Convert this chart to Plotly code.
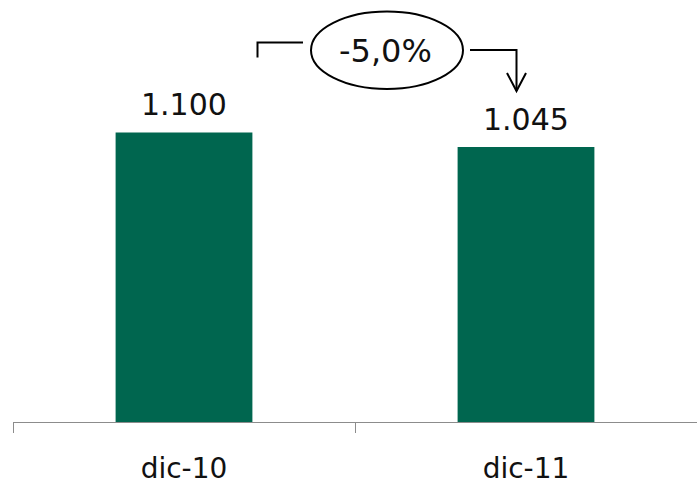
import plotly.graph_objects as go

categories = ["dic-10", "dic-11"]
values = [1100, 1045]

BAR_COLOR = "#00664f"
FONT = "DejaVu Sans"

# layout geometry (pixels)
W_FIG, H_FIG = 697, 485
M_L, M_R, M_T, M_B = 13, 0, 0, 63
PW = W_FIG - M_L - M_R
PH = H_FIG - M_T - M_B


def px(x):
    return (x - M_L) / PW


def py(y):
    return (PH - (y - M_T)) / PH


def fmt(v):
    return f"{v:,.0f}".replace(",", ".")


change = (values[1] - values[0]) / values[0] * 100
change_txt = f"{change:.1f}%".replace(".", ",")

fig = go.Figure()
fig.add_trace(go.Bar(
    x=categories,
    y=values,
    marker=dict(color=BAR_COLOR, line=dict(width=0)),
    width=0.4,
    hoverinfo="skip",
))

annotations = []
for c, v in zip(categories, values):
    annotations.append(dict(
        x=c, y=v, xref="x", yref="y", text=fmt(v), showarrow=False,
        yanchor="bottom", yshift=8,
        font=dict(family=FONT, size=30, color="#111111"),
    ))

annotations.append(dict(
    x=px(386), y=py(51), xref="paper", yref="paper", text=change_txt,
    showarrow=False, xanchor="center", yanchor="middle",
    font=dict(family=FONT, size=32, color="#111111"),
))

shapes = [
    # ellipse
    dict(type="circle", xref="paper", yref="paper",
         x0=px(311), x1=px(463), y0=py(89), y1=py(11.5),
         line=dict(color="black", width=2), fillcolor="white", layer="above"),
    # left bracket
    dict(type="path", xref="paper", yref="paper",
         path=f"M {px(257.5)},{py(57.5)} L {px(257.5)},{py(42.5)} L {px(303)},{py(42.5)}",
         line=dict(color="black", width=2)),
    # right connector down to arrow
    dict(type="path", xref="paper", yref="paper",
         path=f"M {px(470)},{py(50)} L {px(516.5)},{py(50)} L {px(516.5)},{py(91)}",
         line=dict(color="black", width=2)),
    # arrowhead
    dict(type="path", xref="paper", yref="paper",
         path=f"M {px(507)},{py(73)} L {px(516.5)},{py(91)} L {px(526)},{py(73)}",
         line=dict(color="black", width=2)),
]

fig.update_layout(
    width=W_FIG, height=H_FIG,
    margin=dict(l=M_L, r=M_R, t=M_T, b=M_B, pad=0, autoexpand=False),
    paper_bgcolor="white", plot_bgcolor="white",
    showlegend=False,
    annotations=annotations,
    shapes=shapes,
    xaxis=dict(
        type="category", range=[-0.5, 1.5], automargin=False,
        showline=True, linecolor="#8c8c8c", linewidth=1,
        ticks="outside", ticklen=10, tickcolor="#8c8c8c", tickwidth=1,
        tickson="boundaries", ticklabelstandoff=21,
        tickfont=dict(family=FONT, size=28, color="#111111"),
        showgrid=False, zeroline=False, fixedrange=True,
    ),
    yaxis=dict(
        range=[0, 1603], visible=False, showgrid=False, zeroline=False,
        fixedrange=True, automargin=False,
    ),
)

fig.write_html("out.html")
